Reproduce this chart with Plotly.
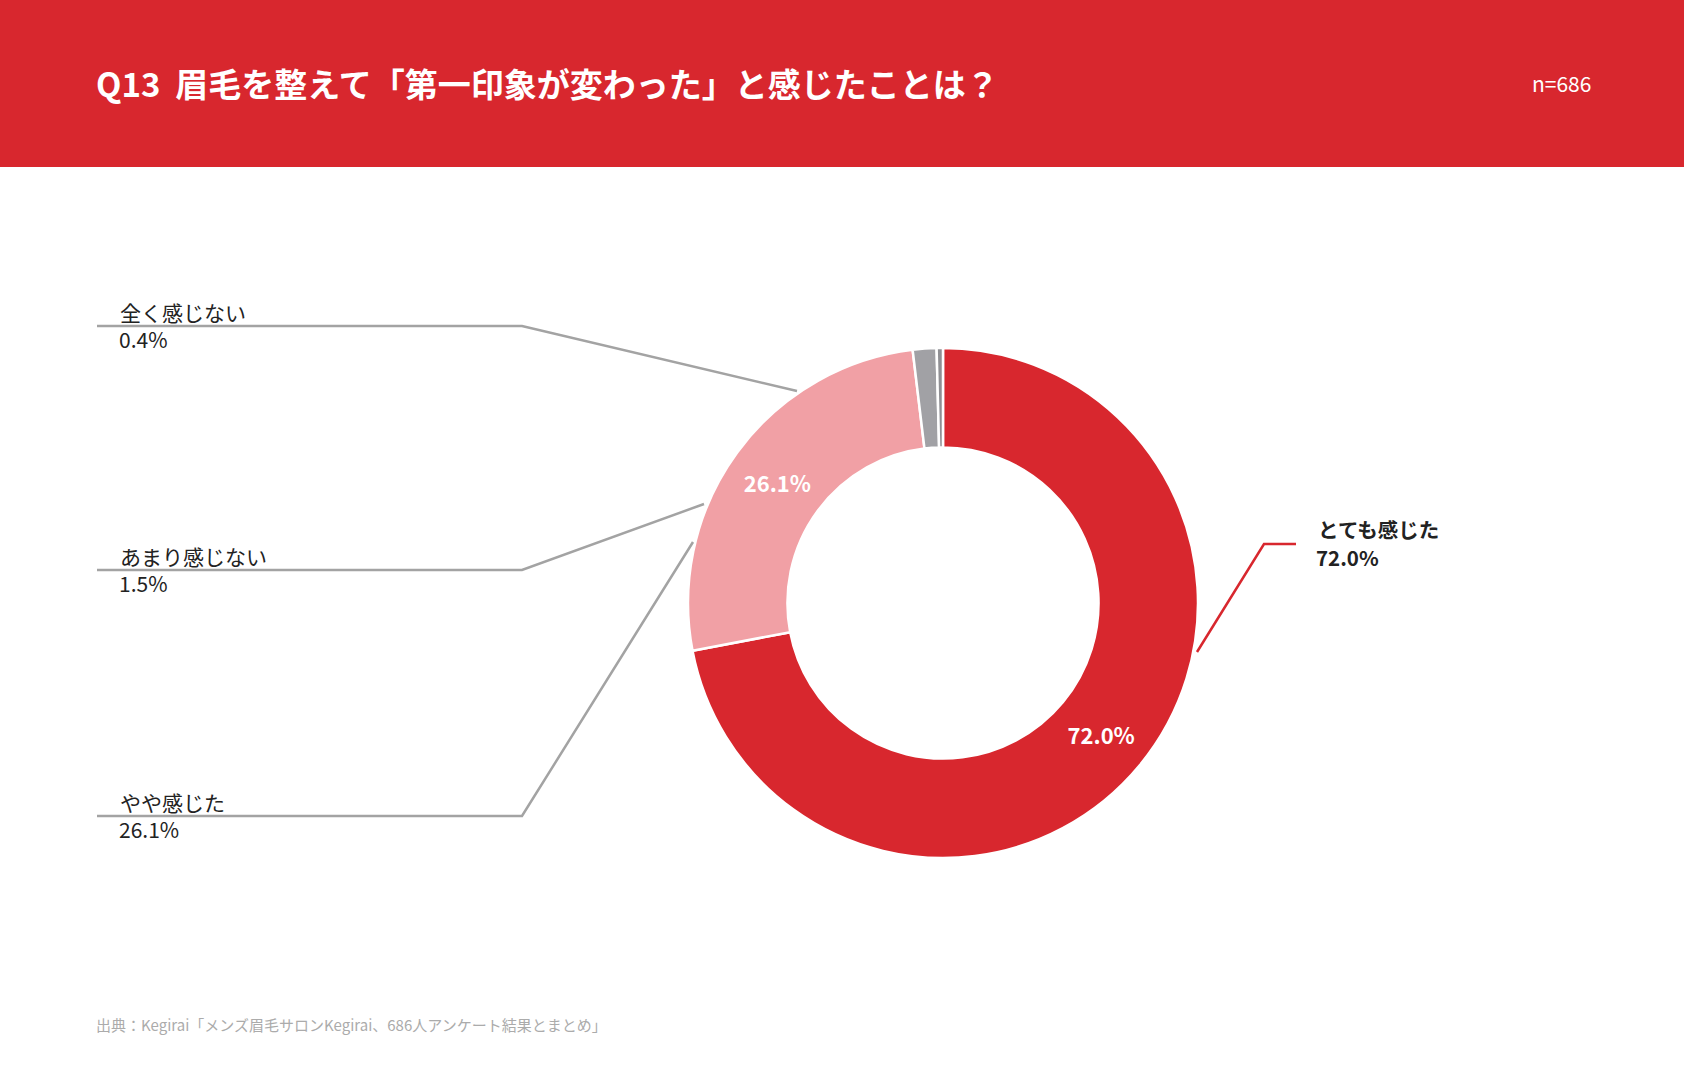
import plotly.graph_objects as go

W, H = 1684, 1089

# データ
labels = ['とても感じた', 'やや感じた', 'あまり感じない', '全く感じない']
values = [72.0, 26.1, 1.5, 0.4]
colors = ['#D8272E', '#F1A0A5', '#A1A1A5', '#8F8F93']

title = 'Q13  眉毛を整えて「第一印象が変わった」と感じたことは？'
n_text = 'n=686'
source = '出典：Kegirai「メンズ眉毛サロンKegirai、686人アンケート結果とまとめ」'

FONT = 'Noto Sans CJK JP'


def px(x, y):
    # ピクセル -> paper座標
    return x / W, 1 - y / H


# ドーナツの位置 (中心と半径, px)
cx, cy, r = 943, 603, 255
x0, y1 = px(cx - r, cy - r)
x1, y0 = px(cx + r, cy + r)

fig = go.Figure(go.Pie(
    labels=labels,
    values=values,
    sort=False,
    direction='clockwise',
    rotation=0,
    hole=0.61,
    marker=dict(colors=colors, line=dict(color='white', width=2.5)),
    text=[f'{v:.1f}%' if v > 5 else '' for v in values],
    textinfo='text',
    textposition='inside',
    insidetextorientation='horizontal',
    textfont=dict(family=FONT, size=22, color='white', weight='bold'),
    hoverinfo='label+percent',
    domain=dict(x=[x0, x1], y=[y0, y1]),
    showlegend=False,
))

shapes = []
# ヘッダーの赤帯
shapes.append(dict(type='rect', xref='paper', yref='paper',
                   x0=0, x1=1, y0=1 - 167 / H, y1=1,
                   fillcolor='#D8272E', line=dict(width=0), layer='below'))

# 引き出し線 (左側 3本)
left_lines = [
    (326, (797, 391)),   # 全く感じない
    (570, (704, 504)),   # あまり感じない
    (816, (693, 542)),   # やや感じた
]
for ly, (ex, ey) in left_lines:
    pts = [px(97, ly), px(522, ly), px(ex, ey)]
    path = 'M {} {} L {} {} L {} {}'.format(*pts[0], *pts[1], *pts[2])
    shapes.append(dict(type='path', xref='paper', yref='paper', path=path,
                       line=dict(color='#A3A3A3', width=2.5)))

# 右側 (とても感じた)
pts = [px(1197, 652), px(1264, 544), px(1296, 544)]
path = 'M {} {} L {} {} L {} {}'.format(*pts[0], *pts[1], *pts[2])
shapes.append(dict(type='path', xref='paper', yref='paper', path=path,
                   line=dict(color='#D8272E', width=2.5)))

annotations = []


def add_text(x, y, text, size, color, bold=False, xanchor='left'):
    ax, ay = px(x, y)
    annotations.append(dict(
        x=ax, y=ay, xref='paper', yref='paper', text=text, showarrow=False,
        xanchor=xanchor, yanchor='middle',
        font=dict(family=FONT, size=size, color=color,
                  weight='bold' if bold else 'normal')))


add_text(94, 83, title, 33, 'white', bold=True)
add_text(1593, 83, n_text, 21, 'white', xanchor='right')
add_text(94, 1024, source, 15, '#ABABAB')

# 左ラベル
left_pos = {'全く感じない': 312, 'あまり感じない': 556, 'やや感じた': 802}
for lab, v in zip(labels, values):
    if lab in left_pos:
        yy = left_pos[lab]
        add_text(118, yy, lab, 21, '#222222')
        add_text(117, yy + 27, f'{v:.1f}%', 21, '#222222')

# 右ラベル
add_text(1316, 529, labels[0], 20.5, '#222222', bold=True)
add_text(1314, 557, f'{values[0]:.1f}%', 20.5, '#222222', bold=True)

fig.update_layout(
    width=W, height=H,
    margin=dict(l=0, r=0, t=0, b=0),
    paper_bgcolor='white',
    plot_bgcolor='white',
    font=dict(family=FONT),
    shapes=shapes,
    annotations=annotations,
)

# bodyの余白を消す
fig.write_html('out.html', config={'displayModeBar': False},
               post_script="document.body.style.margin='0';")
